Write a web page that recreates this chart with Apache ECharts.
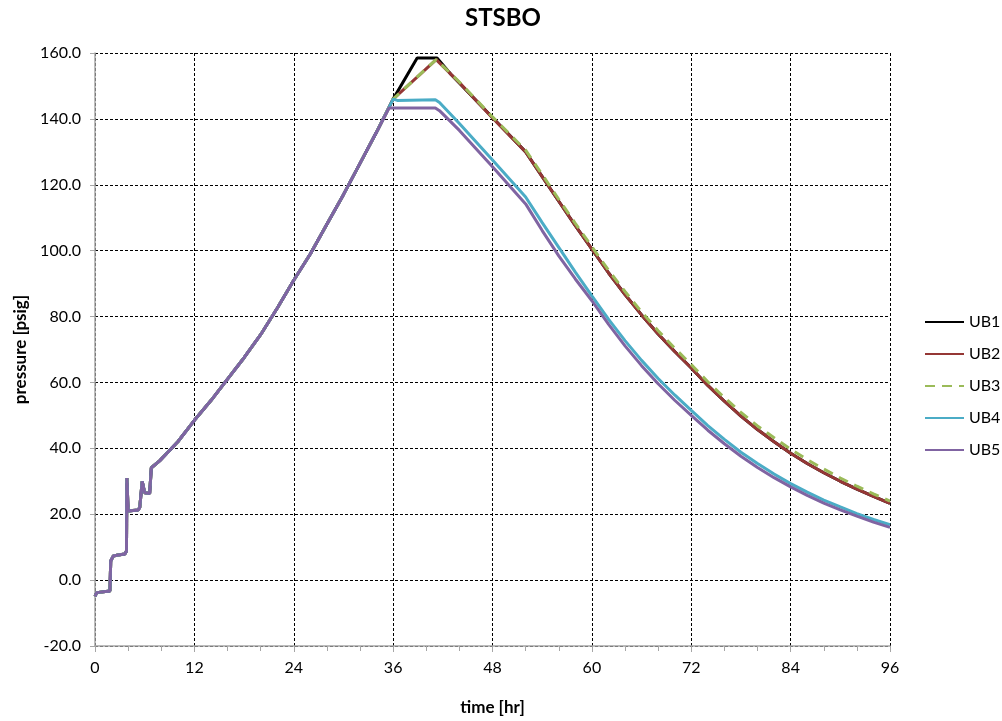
<!DOCTYPE html>
<html>
<head>
<meta charset="utf-8">
<script src="https://cdn.jsdelivr.net/npm/echarts@6/dist/echarts.min.js"></script>
<style>
  html, body { margin: 0; padding: 0; background: #ffffff; }
  #chart { width: 1002px; height: 721px; }
</style>
</head>
<body>
<div id="chart"></div>
<script>
// Shared pressure history (all cases identical up to ~36 hr)
const trunkTime = [0, 0.2, 1.8, 1.9, 2.2, 2.8, 3.6, 3.8, 3.85, 4.0, 5.2, 5.4, 5.7, 6.0, 6.6, 6.8, 7.8,
  10, 12, 14, 16, 18, 20, 22, 24, 26, 28, 30, 32, 34];
const trunkPressure = [-4.9, -3.8, -3.3, 5.8, 7.3, 7.6, 7.9, 8.8, 31, 21, 21.3, 22, 30, 26.5, 26.3, 34.1, 36.2,
  42, 48.5, 54.5, 61, 67.5, 74.5, 82.5, 91, 99, 108, 117, 126.5, 136];

// Case-specific continuations (time [hr], pressure [psig])
const ub1Time = [36, 38.9, 41.3, 43, 48, 52, 54, 56, 58, 60, 62, 64, 66, 68, 70, 72, 74, 76, 78, 80, 82, 84, 86, 88, 90, 92, 94, 96];
const ub1Pressure = [146, 158.5, 158.5, 153.5, 140.4, 130, 122.5, 115.0, 107.6, 100.5, 93.3, 86.7, 80.5, 74.7, 69.4, 64.4,
  59.1, 54.3, 49.8, 45.7, 42.0, 38.5, 35.4, 32.6, 30.0, 27.6, 25.4, 23.3];

const ub2Time = [36, 41.2, 44, 48, 52, 54, 56, 58, 60, 62, 64, 66, 68, 70, 72, 74, 76, 78, 80, 82, 84, 86, 88, 90, 92, 94, 96];
const ub2Pressure = [146, 158, 151, 140.3, 130, 122.5, 115.0, 107.6, 100.5, 93.3, 86.7, 80.5, 74.7, 69.4, 64.4,
  59.1, 54.3, 49.8, 45.7, 42.0, 38.5, 35.4, 32.6, 30.0, 27.6, 25.4, 23.3];

const ub3Time = [36, 41.2, 44, 48, 52, 54, 56, 58, 60, 62, 64, 66, 68, 70, 72, 74, 76, 78, 80, 82, 84, 86, 88, 90, 92, 94, 96];
const ub3Pressure = [146, 158, 151.2, 140.6, 130.5, 123.1, 115.6, 108.3, 101.2, 94.1, 87.6, 81.4, 75.7, 70.4, 65.4,
  60.2, 55.4, 50.9, 46.8, 43.2, 39.7, 36.6, 33.7, 31.0, 28.5, 26.2, 24.0];

const ub4Time = [36, 36.5, 41.1, 41.6, 44, 48, 52, 54, 56, 58, 60, 62, 64, 66, 68, 70, 72, 74, 76, 78, 80, 82, 84, 86, 88, 90, 92, 94, 96];
const ub4Pressure = [146, 145.6, 145.8, 145, 138.6, 127.5, 116.3, 108.5, 101, 93.5, 86.3, 79.2, 72.7, 66.7, 61.2, 56.2, 51.5,
  46.9, 42.7, 38.8, 35.4, 32.2, 29.3, 26.7, 24.3, 22.2, 20.2, 18.4, 16.8];

const ub5Time = [35.5, 41.1, 41.6, 44, 48, 52, 54, 56, 58, 60, 62, 64, 66, 68, 70, 72, 74, 76, 78, 80, 82, 84, 86, 88, 90, 92, 94, 96];
const ub5Pressure = [143.3, 143.3, 142.5, 136.5, 125.5, 114.2, 106.1, 98.4, 91.4, 84.8, 77.7, 71.1, 65.1, 59.6, 54.6, 50.0,
  45.5, 41.4, 37.6, 34.2, 31.1, 28.3, 25.7, 23.4, 21.3, 19.4, 17.6, 16.0];

const seriesNames = ['UB1', 'UB2', 'UB3', 'UB4', 'UB5'];
const xTicks = [0, 12, 24, 36, 48, 60, 72, 84, 96];
const yTicks = [-20, 0, 20, 40, 60, 80, 100, 120, 140, 160];

function pairs(ts, ps) { return ts.map((t, i) => [t, ps[i]]); }
function withTrunk(ts, ps) {
  const base = pairs(trunkTime, trunkPressure).filter(d => d[0] < ts[0]);
  return base.concat(pairs(ts, ps));
}

const caseData = [
  withTrunk(ub1Time, ub1Pressure),
  withTrunk(ub2Time, ub2Pressure),
  withTrunk(ub3Time, ub3Pressure),
  withTrunk(ub4Time, ub4Pressure),
  withTrunk(ub5Time, ub5Pressure)
];

const colors = ['#000000', '#953735', '#9bbb59', '#4bacc6', '#8064a2'];
const dashes = ['solid', 'solid', [10, 7], 'solid', 'solid'];

const FONT = 'Lato, "Open Sans", sans-serif';
const chart = echarts.init(document.getElementById('chart'), null, { renderer: 'canvas' });

chart.setOption({
  animation: false,
  backgroundColor: '#ffffff',
  title: {
    text: 'STSBO',
    left: 498, top: 1,
    textAlign: 'center',
    textStyle: { fontFamily: FONT, fontSize: 24, fontWeight: 'bold', color: '#000' }
  },
  legend: {
    orient: 'vertical',
    left: 924, top: 314,
    padding: 0,
    itemWidth: 39, itemHeight: 14, itemGap: 16,
    itemStyle: { opacity: 0 },
    textStyle: { fontFamily: FONT, fontSize: 16, color: '#000' },
    data: seriesNames
  },
  grid: { left: 95, right: 112, top: 53, bottom: 75, containLabel: false },
  xAxis: {
    type: 'value',
    min: xTicks[0], max: xTicks[xTicks.length - 1], interval: 12,
    name: 'time [hr]', nameLocation: 'middle', nameGap: 53,
    nameTextStyle: { fontFamily: FONT, fontSize: 17, fontWeight: 'bold', color: '#000' },
    axisLine: { onZero: false, lineStyle: { color: '#a6a6a6', width: 1.5 } },
    axisTick: { show: true, length: 6, lineStyle: { color: '#a6a6a6' } },
    minorTick: { show: true, splitNumber: 3, length: 5, lineStyle: { color: '#a6a6a6' } },
    axisLabel: { margin: 14, fontFamily: FONT, fontSize: 16, color: '#000' },
    splitLine: { show: true, lineStyle: { color: '#000', width: 1, type: [3, 2] } }
  },
  yAxis: {
    type: 'value',
    min: yTicks[0], max: yTicks[yTicks.length - 1], interval: 20,
    name: 'pressure [psig]', nameLocation: 'middle', nameGap: 66, nameRotate: 90,
    nameTextStyle: { fontFamily: FONT, fontSize: 17, fontWeight: 'bold', color: '#000' },
    axisLine: { show: true, onZero: false, lineStyle: { color: '#a6a6a6', width: 1.5 } },
    axisTick: { show: true, length: 5, lineStyle: { color: '#a6a6a6' } },
    axisLabel: { margin: 14, fontFamily: FONT, fontSize: 16, color: '#000',
      formatter: v => v.toFixed(1) },
    splitLine: { show: true, lineStyle: { color: '#000', width: 1, type: [3, 2] } }
  },
  series: seriesNames.map((name, i) => ({
    name: name,
    type: 'line',
    data: caseData[i],
    symbol: 'none',
    showSymbol: false,
    color: colors[i],
    lineStyle: { color: colors[i], width: 3, type: dashes[i] },
    z: 2 + i
  }))
});
</script>
</body>
</html>
